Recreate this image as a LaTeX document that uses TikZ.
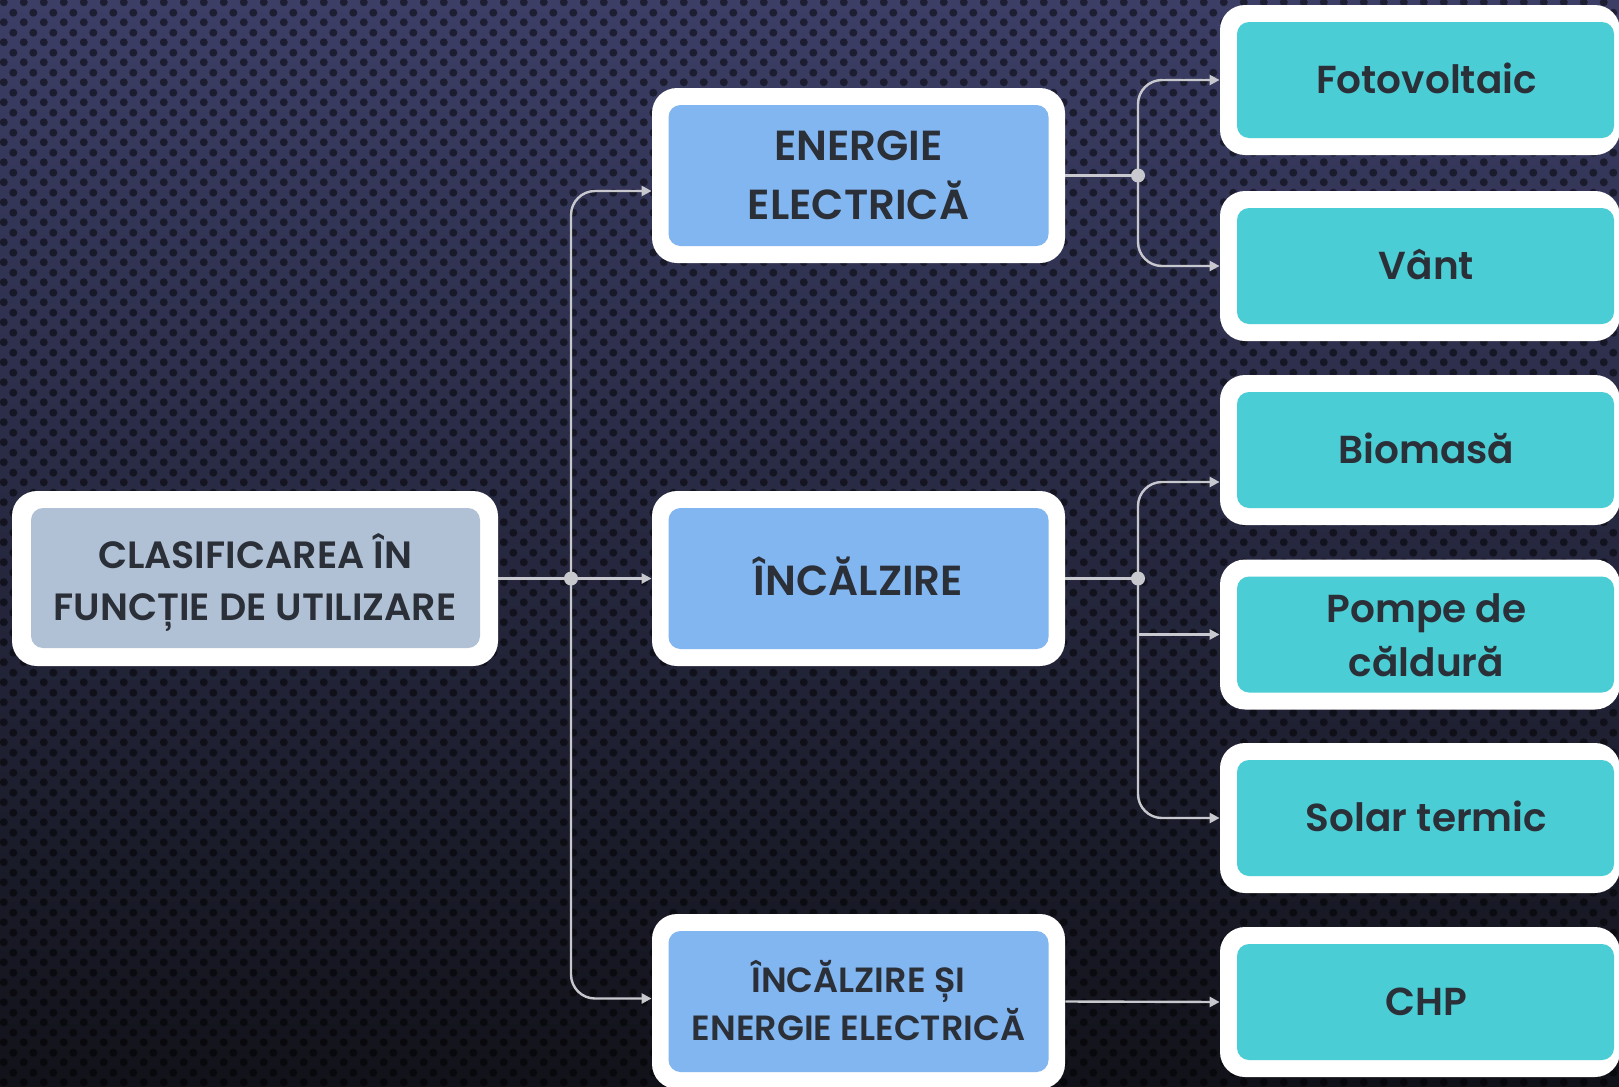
\documentclass[tikz,border=0pt]{standalone}
\usepackage{fontspec}
\setmainfont{Poppins}[BoldFont={Poppins SemiBold}]
\usetikzlibrary{patterns,arrows.meta,calc}
\definecolor{bgtop}{HTML}{3C3E66}
\definecolor{bgmid}{HTML}{262740}
\definecolor{bgbot}{HTML}{111219}
\definecolor{cgrey}{HTML}{B0C1D6}
\definecolor{cblue}{HTML}{82B6F0}
\definecolor{cteal}{HTML}{4ACDD4}
\definecolor{ctext}{HTML}{2B2F38}
\definecolor{cline}{HTML}{C8C9CE}
\pgfdeclarepatternformonly{hexdots}{\pgfpointorigin}{\pgfpoint{10pt}{10pt}}{\pgfpoint{10pt}{10pt}}{%
  \pgfpathcircle{\pgfpoint{2.5pt}{2.5pt}}{2.1pt}%
  \pgfpathcircle{\pgfpoint{7.5pt}{7.5pt}}{2.1pt}%
  \pgfusepath{fill}}
\tikzset{
  frame/.style={fill=white, draw=none, rounded corners=12.5pt, inner sep=0pt},
  leftframe/.style={frame, minimum width=243pt, minimum height=87.5pt},
  midframe/.style={frame, minimum width=206.5pt, minimum height=87.5pt},
  rightframe/.style={frame, minimum width=200pt, minimum height=75pt},
  inbox/.style={draw=none, rounded corners=6pt, inner sep=0pt},
  leftinner/.style={inbox, fill=cgrey, minimum width=224.5pt, minimum height=70pt},
  midinner/.style={inbox, fill=cblue, minimum width=190pt, minimum height=70.5pt},
  rightinner/.style={inbox, fill=cteal, minimum width=188.5pt, minimum height=58pt},
  txt/.style={text=ctext, inner sep=0pt, anchor=base},
  captxt/.style={txt, font=\bfseries\fontsize{21}{25}\selectfont},
  lefttxt/.style={txt, font=\bfseries\fontsize{19}{23}\selectfont},
  smalltxt/.style={txt, font=\bfseries\fontsize{17.5}{21}\selectfont},
  righttxt/.style={txt, font=\bfseries\fontsize{19.5}{24}\selectfont},
  wire/.style={draw=cline, line width=1.2pt},
  conn/.style={wire, rounded corners=12pt, -{Triangle[length=5pt,width=5pt]}},
  junction/.style={fill=cline}
}
\begin{document}
\begin{tikzpicture}[x=0.5pt,y=-0.5pt]
\useasboundingbox (0,0) rectangle (1619,1087);
\clip (0,0) rectangle (1619,1087);
\shade[top color=bgtop, middle color=bgmid, bottom color=bgbot] (0,0) rectangle (1619,1087);
\fill[pattern=hexdots, pattern color=black, fill opacity=0.5] (0,0) rectangle (1619,1087);

% left
\node[leftframe] (L) at (255,578.5) {};
\node[leftinner] (Li) at (255.5,578) {};
\node[lefttxt] (Lt1) at ([yshift=5.25pt]L.center) {CLASIFICAREA ÎN};
\node[lefttxt] (Lt2) at ([yshift=-21pt]L.center) {FUNCȚIE DE UTILIZARE};

% middle
\node[midframe] (E) at (858.5,175.5) {};
\node[midinner] (Ei) at (E.center) {};
\node[captxt] (Et1) at ([yshift=7.75pt]E.center) {ENERGIE};
\node[captxt] (Et2) at ([yshift=-21.75pt]E.center) {ELECTRICĂ};

\node[midframe] (I) at (858.5,578.5) {};
\node[midinner] (Ii) at (I.center) {};
\node[captxt] (It) at ([yshift=-8.25pt]I.center) {ÎNCĂLZIRE};

\node[midframe] (B) at (858.5,1001.5) {};
\node[midinner] (Bi) at (B.center) {};
\node[smalltxt] (Bt1) at ([yshift=4.75pt]B.center) {ÎNCĂLZIRE ȘI};
\node[smalltxt] (Bt2) at ([yshift=-19.25pt]B.center) {ENERGIE ELECTRICĂ};

% right
\node[rightframe] (R1) at (1420,80) {};
\node[rightframe] (R2) at (1420,266) {};
\node[rightframe] (R3) at (1420,450) {};
\node[rightframe] (R4) at (1420,634.5) {};
\node[rightframe] (R5) at (1420,818) {};
\node[rightframe] (R6) at (1420,1002) {};
\foreach \r in {R1,R2,R3,R4,R5,R6}{
  \node[rightinner] (\r i) at ([xshift=2.75pt]\r.center) {};
}
\node[righttxt] (R1t) at ([xshift=3.25pt,yshift=-6.5pt]R1.center) {Fotovoltaic};
\node[righttxt] (R2t) at ([xshift=3.25pt,yshift=-6.5pt]R2.center) {Vânt};
\node[righttxt] (R3t) at ([xshift=3.25pt,yshift=-6.5pt]R3.center) {Biomasă};
\node[righttxt] (R4t1) at ([xshift=3.25pt,yshift=6pt]R4.center) {Pompe de};
\node[righttxt] (R4t2) at ([xshift=3.25pt,yshift=-21pt]R4.center) {căldură};
\node[righttxt] (R5t) at ([xshift=3.25pt,yshift=-6.5pt]R5.center) {Solar termic};
\node[righttxt] (R6t) at ([xshift=3.25pt,yshift=-6.5pt]R6.center) {CHP};

% connectors
\coordinate (J1) at (571,578.5);
\coordinate (J2) at (1138,175.5);
\coordinate (J3) at (1138,578.5);

\draw[wire] (L.east) -- (J1);
\draw[conn] (J1) -- (I.west);
\draw[conn] (J1) |- ([yshift=-7.75pt]E.west);
\draw[conn] (J1) |- ([yshift=1.5pt]B.west);
\fill[junction] (J1) circle (3.5pt);

\draw[wire] (E.east) -- (J2);
\draw[conn] (J2) |- (R1.west);
\draw[conn] (J2) |- (R2.west);
\fill[junction] (J2) circle (3.5pt);

\draw[wire] (I.east) -- (J3);
\draw[conn] (J3) |- ([yshift=-16pt]R3.west);
\draw[conn] (J3) |- (R5.west);
\draw[conn] (J3 |- R4.west) -- (R4.west);
\fill[junction] (J3) circle (3.5pt);

\draw[conn] (B.east) -- (R6.west);
\end{tikzpicture}
\end{document}
